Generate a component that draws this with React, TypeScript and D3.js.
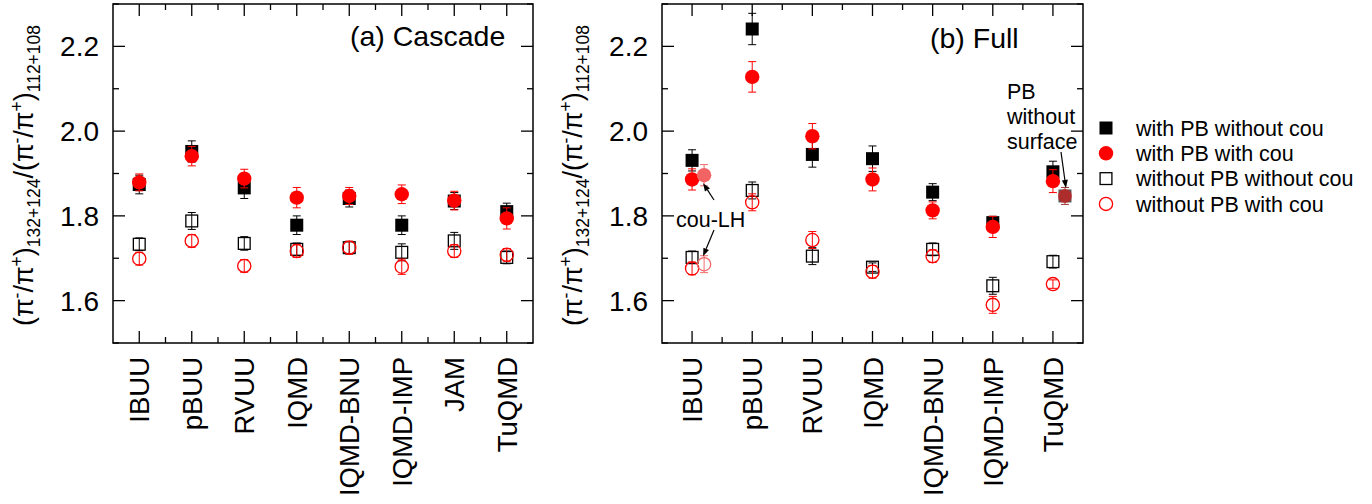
import React from "react";
import * as d3 from "d3";

const cascadeModels = ["IBUU", "pBUU", "RVUU", "IQMD", "IQMD-BNU", "IQMD-IMP", "JAM", "TuQMD"];
const cascPBnoCou = [1.874, 1.952, 1.866, 1.778, 1.841, 1.778, 1.835, 1.81];
const cascPBnoCouErr = [0.022, 0.025, 0.025, 0.022, 0.02, 0.022, 0.02, 0.02];
const cascPBCou = [1.879, 1.941, 1.888, 1.843, 1.847, 1.851, 1.836, 1.794];
const cascPBCouErr = [0.02, 0.023, 0.022, 0.024, 0.02, 0.022, 0.022, 0.025];
const cascNoPBnoCou = [1.733, 1.788, 1.735, 1.721, 1.725, 1.714, 1.741, 1.702];
const cascNoPBnoCouErr = [0.015, 0.02, 0.016, 0.015, 0.015, 0.02, 0.02, 0.015];
const cascNoPBCou = [1.699, 1.741, 1.682, 1.717, 1.725, 1.68, 1.717, 1.708];
const cascNoPBCouErr = [0.015, 0.015, 0.015, 0.015, 0.015, 0.018, 0.015, 0.015];

const fullModels = ["IBUU", "pBUU", "RVUU", "IQMD", "IQMD-BNU", "IQMD-IMP", "TuQMD"];
const fullPBnoCou = [1.931, 2.241, 1.945, 1.935, 1.856, 1.784, 1.904];
const fullPBnoCouErr = [0.025, 0.037, 0.03, 0.03, 0.02, 0.015, 0.025];
const fullPBCou = [1.886, 2.128, 1.988, 1.886, 1.813, 1.774, 1.882];
const fullPBCouErr = [0.025, 0.036, 0.03, 0.027, 0.02, 0.025, 0.027];
const fullNoPBnoCou = [1.702, 1.86, 1.705, 1.679, 1.721, 1.635, 1.692];
const fullNoPBnoCouErr = [0.015, 0.02, 0.02, 0.01, 0.015, 0.02, 0.015];
const fullNoPBCou = [1.676, 1.832, 1.743, 1.668, 1.705, 1.59, 1.639];
const fullNoPBCouErr = [0.015, 0.02, 0.02, 0.015, 0.015, 0.02, 0.01];

// cou-LH variant of IBUU (drawn slightly right of IBUU)
const couLHPos = 1.2;
const couLHWithPB = 1.896;
const couLHWithPBErr = 0.025;
const couLHNoPB = 1.686;
const couLHNoPBErr = 0.02;
// PB without surface variant of TuQMD
const noSurfPos = 7.2;
const noSurfVal = 1.847;
const noSurfErr = 0.02;

const yMajorTicks = [1.6, 1.8, 2.0, 2.2];
const yMinorTicks = [1.5, 1.7, 1.9, 2.1, 2.3];

const legendLabels = [
  "with PB without cou",
  "with PB with cou",
  "without PB without cou",
  "without PB with cou",
];

const FONT = "'Liberation Sans', Arial, Helvetica, sans-serif";
const RED = "#ff0000";
const TOP = 4;
const BOTTOM = 343;
const MAJ = 12;
const MIN = 6;

type Series = { vals: number[]; errs: number[]; kind: string };

function Marker({ kind, x, y, fill, stroke }: { kind: string; x: number; y: number; fill?: string; stroke?: string }) {
  const s = 13;
  const r = 7.2;
  if (kind === "fs") return <rect x={x - s / 2} y={y - s / 2} width={s} height={s} fill={fill || "#000"} />;
  if (kind === "fc") return <circle cx={x} cy={y} r={r} fill={fill || RED} />;
  if (kind === "os")
    return <rect x={x - s / 2 + 0.6} y={y - s / 2 + 0.6} width={s - 1.2} height={s - 1.2} fill="none" stroke={stroke || "#000"} strokeWidth={1.3} />;
  return <circle cx={x} cy={y} r={r - 0.6} fill="none" stroke={stroke || RED} strokeWidth={1.3} />;
}

function ErrBar({ x, lo, hi, color }: { x: number; lo: number; hi: number; color: string }) {
  const w = 4;
  return (
    <g stroke={color} strokeWidth={1}>
      <line x1={x} x2={x} y1={hi} y2={lo} />
      <line x1={x - w} x2={x + w} y1={hi} y2={hi} />
      <line x1={x - w} x2={x + w} y1={lo} y2={lo} />
    </g>
  );
}

function Panel({
  x0,
  x1,
  models,
  series,
  title,
  titleX,
  titleY,
  children,
}: {
  x0: number;
  x1: number;
  models: string[];
  series: Series[];
  title: string;
  titleX: number;
  titleY: number;
  children?: (x: d3.ScaleLinear<number, number>, y: d3.ScaleLinear<number, number>) => React.ReactNode;
}) {
  const n = models.length;
  const x = d3.scaleLinear().domain([0.5, n + 0.5]).range([x0, x1]);
  const y = d3.scaleLinear().domain([1.5, 2.3]).range([BOTTOM, TOP]);
  const xMajor = d3.range(1, n + 1);
  const xMinor = d3.range(1, n).map((d) => d + 0.5);
  const colorFor = (k: string) => (k === "fc" || k === "oc" ? RED : "#000");
  return (
    <g>
      {series.map((s, si) => (
        <g key={si}>
          {s.vals.map((v, i) => (
            <g key={i}>
              <ErrBar x={x(i + 1)} lo={y(v - s.errs[i])} hi={y(v + s.errs[i])} color={colorFor(s.kind)} />
              <Marker kind={s.kind} x={x(i + 1)} y={y(v)} />
            </g>
          ))}
        </g>
      ))}
      {children && children(x, y)}
      <rect x={x0} y={TOP} width={x1 - x0} height={BOTTOM - TOP} fill="none" stroke="#000" strokeWidth={1.5} />
      {yMajorTicks.map((t) => (
        <g key={"ym" + t}>
          <line x1={x0} x2={x0 + MAJ} y1={y(t)} y2={y(t)} stroke="#000" strokeWidth={1.3} />
          <line x1={x1} x2={x1 - MAJ} y1={y(t)} y2={y(t)} stroke="#000" strokeWidth={1.3} />
          <text x={x0 - 14} y={y(t)} dy="0.36em" textAnchor="end" fontSize={28} fontFamily={FONT}>
            {t.toFixed(1)}
          </text>
        </g>
      ))}
      {yMinorTicks.map((t) => (
        <g key={"yn" + t}>
          <line x1={x0} x2={x0 + MIN} y1={y(t)} y2={y(t)} stroke="#000" strokeWidth={1.3} />
          <line x1={x1} x2={x1 - MIN} y1={y(t)} y2={y(t)} stroke="#000" strokeWidth={1.3} />
        </g>
      ))}
      {xMajor.map((t) => (
        <g key={"xm" + t}>
          <line x1={x(t)} x2={x(t)} y1={BOTTOM} y2={BOTTOM - MAJ} stroke="#000" strokeWidth={1.3} />
          <line x1={x(t)} x2={x(t)} y1={TOP} y2={TOP + MAJ} stroke="#000" strokeWidth={1.3} />
          <text
            transform={`translate(${x(t) + 10},${357}) rotate(-90)`}
            textAnchor="end"
            fontSize={27.5}
            fontFamily={FONT}
          >
            {models[t - 1]}
          </text>
        </g>
      ))}
      {xMinor.map((t) => (
        <g key={"xn" + t}>
          <line x1={x(t)} x2={x(t)} y1={BOTTOM} y2={BOTTOM - MIN} stroke="#000" strokeWidth={1.3} />
          <line x1={x(t)} x2={x(t)} y1={TOP} y2={TOP + MIN} stroke="#000" strokeWidth={1.3} />
        </g>
      ))}
      <text x={titleX} y={titleY} fontSize={28.5} fontFamily={FONT}>
        {title}
      </text>
      <YLabel cx={x0 - 80} cy={(TOP + BOTTOM) / 2 + 2} />
    </g>
  );
}

function YLabel({ cx, cy }: { cx: number; cy: number }) {
  const sup = -10;
  const sub = 7;
  const ss = 17.5;
  return (
    <text transform={`translate(${cx},${cy}) rotate(-90)`} textAnchor="middle" fontSize={27} fontFamily={FONT}>
      <tspan>(π</tspan>
      <tspan dy={sup} fontSize={ss}>-</tspan>
      <tspan dy={-sup}>/π</tspan>
      <tspan dy={sup} fontSize={ss}>+</tspan>
      <tspan dy={-sup}>)</tspan>
      <tspan dy={sub} fontSize={ss}>132+124</tspan>
      <tspan dy={-sub}>/(π</tspan>
      <tspan dy={sup} fontSize={ss}>-</tspan>
      <tspan dy={-sup}>/π</tspan>
      <tspan dy={sup} fontSize={ss}>+</tspan>
      <tspan dy={-sup}>)</tspan>
      <tspan dy={sub} fontSize={ss}>112+108</tspan>
    </text>
  );
}

function Arrow({ x1, y1, x2, y2 }: { x1: number; y1: number; x2: number; y2: number }) {
  const a = Math.atan2(y2 - y1, x2 - x1);
  const L = 8;
  const W = 3;
  const bx = x2 - L * Math.cos(a);
  const by = y2 - L * Math.sin(a);
  const px = -Math.sin(a) * W;
  const py = Math.cos(a) * W;
  return (
    <g>
      <line x1={x1} y1={y1} x2={bx} y2={by} stroke="#000" strokeWidth={1.2} />
      <path d={`M${x2},${y2}L${bx + px},${by + py}L${bx - px},${by - py}Z`} fill="#000" />
    </g>
  );
}

export default function App() {
  const cascSeries: Series[] = [
    { vals: cascPBnoCou, errs: cascPBnoCouErr, kind: "fs" },
    { vals: cascPBCou, errs: cascPBCouErr, kind: "fc" },
    { vals: cascNoPBnoCou, errs: cascNoPBnoCouErr, kind: "os" },
    { vals: cascNoPBCou, errs: cascNoPBCouErr, kind: "oc" },
  ];
  const fullSeries: Series[] = [
    { vals: fullPBnoCou, errs: fullPBnoCouErr, kind: "fs" },
    { vals: fullPBCou, errs: fullPBCouErr, kind: "fc" },
    { vals: fullNoPBnoCou, errs: fullNoPBnoCouErr, kind: "os" },
    { vals: fullNoPBCou, errs: fullNoPBCouErr, kind: "oc" },
  ];
  const legendKinds = ["fs", "fc", "os", "oc"];
  return (
    <svg width={1372} height={504} style={{ position: "absolute", left: 0, top: 0, background: "#fff" }}>
      <rect width={1372} height={504} fill="#fff" />
      <Panel x0={113} x1={533} models={cascadeModels} series={cascSeries} title="(a) Cascade" titleX={350} titleY={46} />
      <Panel x0={662} x1={1083} models={fullModels} series={fullSeries} title="(b) Full" titleX={930} titleY={48}>
        {(x, y) => (
          <g>
            <ErrBar x={x(couLHPos)} lo={y(couLHWithPB - couLHWithPBErr)} hi={y(couLHWithPB + couLHWithPBErr)} color="#f06a6a" />
            <Marker kind="fc" x={x(couLHPos)} y={y(couLHWithPB)} fill="#f26464" />
            <ErrBar x={x(couLHPos)} lo={y(couLHNoPB - couLHNoPBErr)} hi={y(couLHNoPB + couLHNoPBErr)} color="#f06a6a" />
            <Marker kind="oc" x={x(couLHPos)} y={y(couLHNoPB)} stroke="#f26464" />
            <ErrBar x={x(noSurfPos)} lo={y(noSurfVal - noSurfErr)} hi={y(noSurfVal + noSurfErr)} color="#a03a3a" />
            <Marker kind="fs" x={x(noSurfPos)} y={y(noSurfVal)} fill="#5a5a5a" />
            <circle cx={x(noSurfPos)} cy={y(noSurfVal)} r={7} fill="#d01818" fillOpacity={0.7} />
            <text x={676} y={227} fontSize={21.5} fontFamily={FONT}>cou-LH</text>
            <Arrow x1={714} y1={200} x2={x(couLHPos) - 1} y2={y(couLHWithPB) + 8} />
            <Arrow x1={714} y1={230} x2={x(couLHPos) - 1} y2={y(couLHNoPB) - 8} />
            <text fontSize={21.5} fontFamily={FONT}>
              <tspan x={1007} y={99}>PB</tspan>
              <tspan x={1007} y={124}>without</tspan>
              <tspan x={1007} y={149}>surface</tspan>
            </text>
            <Arrow x1={1061} y1={152} x2={x(noSurfPos) + 1} y2={y(noSurfVal) - 8} />
          </g>
        )}
      </Panel>
      {legendLabels.map((l, i) => (
        <g key={l}>
          <Marker kind={legendKinds[i]} x={1106} y={128 + i * 25.3} />
          <text x={1136} y={128 + i * 25.3} dy="0.36em" fontSize={21.5} fontFamily={FONT}>
            {l}
          </text>
        </g>
      ))}
    </svg>
  );
}
